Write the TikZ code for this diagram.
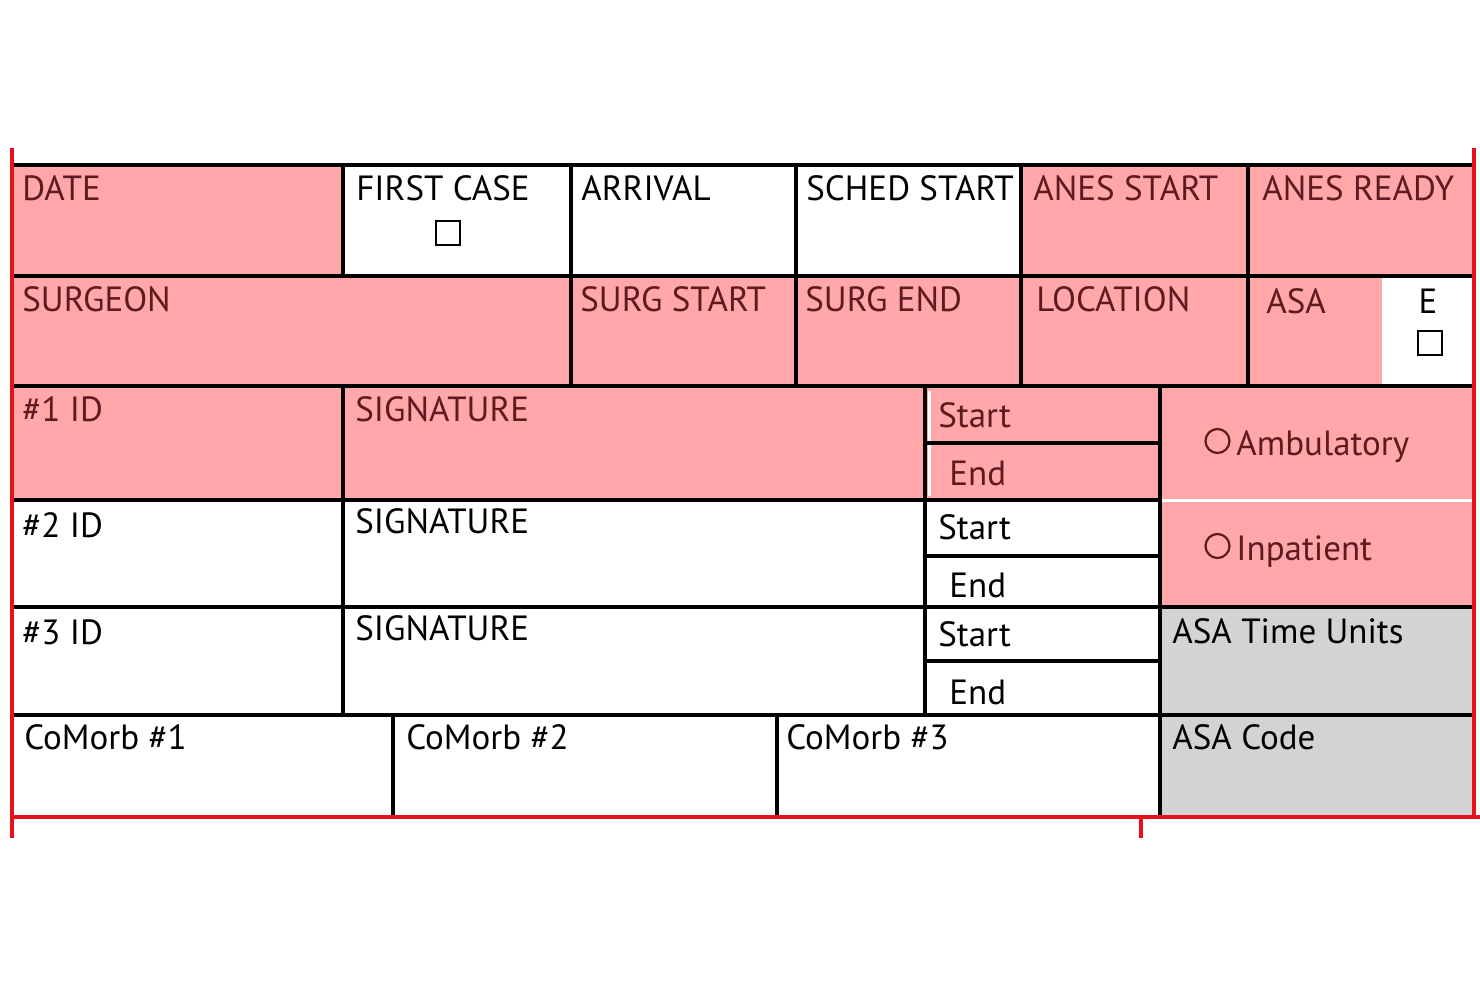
\documentclass[tikz,border=0pt]{standalone}
\usepackage{fontspec}
\setmainfont{PT Sans}
\definecolor{pk}{HTML}{FFA7A9}
\definecolor{gy}{HTML}{D2D3D5}
\definecolor{dr}{HTML}{5E1A20}
\definecolor{rd}{HTML}{E8101A}
\begin{document}
\begin{tikzpicture}[x=0.5pt,y=-0.5pt,
  lb/.style={anchor=base west,inner sep=0pt,font=\fontsize{17.5}{20}\selectfont},
  lp/.style={lb,text=dr},
  blk/.style={line width=2pt,black},
  red/.style={line width=1.6pt,rd}]
\useasboundingbox (0,0) rectangle (1480,987);
% fills
\fill[pk] (12,165) rectangle (343,276);
\fill[pk] (1021,165) rectangle (1474,276);
\fill[pk] (12,276) rectangle (1382,386);
\fill[pk] (12,386) rectangle (925,500);
\fill[pk] (925,386) rectangle (1160,500);
\fill[pk] (1160,386) rectangle (1474,607);
\fill[gy] (1160,607) rectangle (1474,817);
\draw[white,line width=1.5pt] (1162,500) -- (1472,500);
\draw[white,line width=1.5pt] (929,391) -- (929,496);
% black grid
\draw[blk] (12,165) -- (1474,165);
\draw[blk] (12,276) -- (1474,276);
\draw[blk] (12,386) -- (1474,386);
\draw[blk] (12,500) -- (1160,500);
\draw[blk] (12,607) -- (1474,607);
\draw[blk] (12,715) -- (1474,715);
\foreach \x in {343,571,796,1021,1248} \draw[blk] (\x,165) -- (\x,276);
\foreach \x in {571,796,1021,1248} \draw[blk] (\x,276) -- (\x,386);
\foreach \x in {343,925,1160} \draw[blk] (\x,386) -- (\x,715);
\foreach \x in {393,777,1160} \draw[blk] (\x,715) -- (\x,817);
\foreach \y in {443,556,661} \draw[blk] (925,\y) -- (1160,\y);
% red frame
\draw[red] (12,148) -- (12,838);
\draw[red] (1474,148) -- (1474,817);
\draw[red] (12,817) -- (1480,817);
\draw[red] (1141,817) -- (1141,838);
% labels
\node[lp] (date) at (22,200) {DATE};
\node[lb] (fc) at (356,200) {FIRST CASE};
\node[draw,line width=1.2pt,minimum size=12pt,inner sep=0pt] (fcb) at (448,233) {};
\node[lb] (arr) at (581,200) {ARRIVAL};
\node[lb] (ss) at (806,200) {SCHED START};
\node[lp] (as) at (1033,200) {ANES START};
\node[lp] (ar) at (1262,200) {ANES READY};
\node[lp] (surg) at (22,311) {SURGEON};
\node[lp] (sst) at (580,311) {SURG START};
\node[lp] (se) at (805,311) {SURG END};
\node[lp] (loc) at (1036,311) {LOCATION};
\node[lp] (asa) at (1266,313) {ASA};
\node[lb,anchor=base] (e) at (1428,313) {E};
\node[draw,line width=1.2pt,minimum size=12pt,inner sep=0pt] (eb) at (1430,343) {};
\node[lp] (id1) at (22,421) {\#1 ID};
\node[lp] (sig1) at (355,421) {SIGNATURE};
\node[lp] (st1) at (938,427) {Start};
\node[lp] (en1) at (949,485) {End};
\node[lb] (id2) at (22,537) {\#2 ID};
\node[lb] (sig2) at (355,533) {SIGNATURE};
\node[lb] (st2) at (938,539) {Start};
\node[lb] (en2) at (949,597) {End};
\node[lb] (id3) at (22,644) {\#3 ID};
\node[lb] (sig3) at (355,640) {SIGNATURE};
\node[lb] (st3) at (938,646) {Start};
\node[lb] (en3) at (949,704) {End};
\node[lp] (amb) at (1204,455) {\tikz[baseline=-0.8ex]\draw[dr,line width=1.1pt] (0,0) circle (6pt);\,Ambulatory};
\node[lp] (inp) at (1204,560) {\tikz[baseline=-0.8ex]\draw[dr,line width=1.1pt] (0,0) circle (6pt);\,Inpatient};
\node[lb] (atu) at (1172,643) {ASA Time Units};
\node[lb] (c1) at (24,749) {CoMorb \#1};
\node[lb] (c2) at (406,749) {CoMorb \#2};
\node[lb] (c3) at (786,749) {CoMorb \#3};
\node[lb] (acode) at (1172,749) {ASA Code};
\end{tikzpicture}
\end{document}
